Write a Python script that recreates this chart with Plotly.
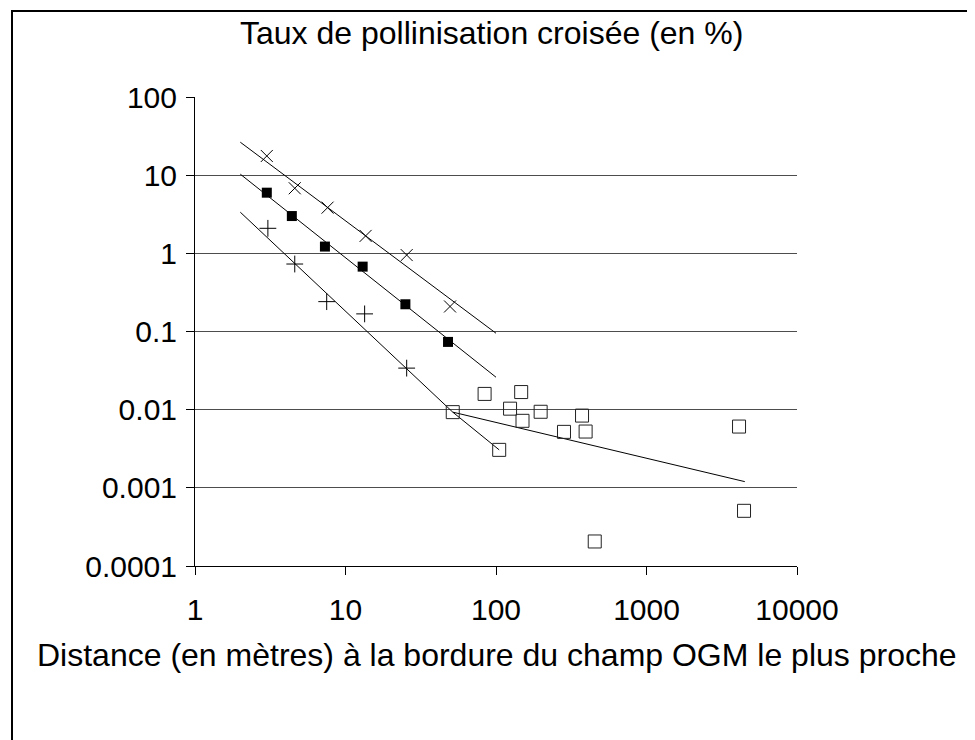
import plotly.graph_objects as go

# ---- data ----
dist_cross = [3.0, 4.6, 7.6, 13.6, 25.5, 49.5]
rate_cross = [17.6, 6.8, 3.84, 1.67, 0.95, 0.209]

dist_square_filled = [3.0, 4.4, 7.3, 13.0, 25.0, 48.0]
rate_square_filled = [5.97, 3.0, 1.22, 0.676, 0.223, 0.0736]

dist_plus = [3.05, 4.6, 7.5, 13.4, 25.5]
rate_plus = [2.09, 0.73, 0.241, 0.168, 0.034]

dist_open = [51.6, 105, 84, 147, 124, 150, 198, 283, 373, 394, 453, 4120, 4446]
rate_open = [0.0093, 0.00306, 0.0159, 0.0168, 0.0103, 0.0072, 0.0094, 0.0052, 0.0084, 0.00525,
             0.000206, 0.00608, 0.000508]

# trend lines
fit_cross_x = [2, 100]
fit_cross_y = [26.4, 0.095]
fit_filled_x = [2, 100]
fit_filled_y = [10.3, 0.026]
fit_plus_x = [2, 51.6, 105]
fit_plus_y = [3.36, 0.0093, 0.00306]
fit_open_x = [51.6, 4500]
fit_open_y = [0.0093, 0.0012]

x_tickvals = [1, 10, 100, 1000, 10000]
x_ticktext = ["1", "10", "100", "1000", "10000"]
y_tickvals = [0.0001, 0.001, 0.01, 0.1, 1, 10, 100]
y_ticktext = ["0.0001", "0.001", "0.01", "0.1", "1", "10", "100"]

title_text = "Taux de pollinisation croisée (en %)"
xtitle_text = "Distance (en mètres) à la bordure du champ OGM le plus proche"

FONT = "Liberation Sans, Arial, sans-serif"

fig = go.Figure()
line_style = dict(color="black", width=1)
for fx, fy in [(fit_cross_x, fit_cross_y), (fit_filled_x, fit_filled_y),
               (fit_plus_x, fit_plus_y), (fit_open_x, fit_open_y)]:
    fig.add_trace(go.Scatter(x=fx, y=fy, mode="lines", line=line_style,
                             hoverinfo="skip", showlegend=False))

fig.add_trace(go.Scatter(x=dist_cross, y=rate_cross, mode="markers",
                         marker=dict(symbol="x-thin", size=12,
                                     line=dict(color="black", width=1)),
                         showlegend=False))
fig.add_trace(go.Scatter(x=dist_square_filled, y=rate_square_filled, mode="markers",
                         marker=dict(symbol="square", size=10, color="black",
                                     line=dict(width=0)),
                         showlegend=False))
fig.add_trace(go.Scatter(x=dist_plus, y=rate_plus, mode="markers",
                         marker=dict(symbol="cross-thin", size=12,
                                     line=dict(color="black", width=1)),
                         showlegend=False))
fig.add_trace(go.Scatter(x=dist_open, y=rate_open, mode="markers",
                         marker=dict(symbol="square-open", size=13, color="#222",
                                     line=dict(color="#222", width=1)),
                         showlegend=False))

# the page body has an 8px margin; screen coordinates below are compensated
OFF = 8
W, H = 975, 740
L, T = 195 - OFF, 97 - OFF
R = W - (797 - OFF)
B = H - (566 - OFF)
pw, ph = W - L - R, H - T - B

def px_x(p):
    return (p - OFF - L) / pw

def px_y(p):
    return (H - B - (p - OFF)) / ph

fig.update_layout(
    width=W, height=H,
    margin=dict(l=L, r=R, t=T, b=B, pad=0),
    paper_bgcolor="white", plot_bgcolor="white",
    font=dict(family=FONT, size=30, color="black"),
    xaxis=dict(type="log", range=[0, 4], tickvals=x_tickvals, ticktext=x_ticktext,
               showgrid=False, zeroline=False, showline=True, linecolor="black",
               linewidth=1, ticks="outside", ticklen=8, tickcolor="black",
               tickfont=dict(size=30), ticklabelstandoff=9),
    yaxis=dict(type="log", range=[-4, 2], tickvals=y_tickvals, ticktext=y_ticktext,
               showgrid=True, gridcolor="#4d4d4d", gridwidth=1, zeroline=False,
               showline=True, linecolor="black", linewidth=1, ticks="outside",
               ticklen=8, tickcolor="black", tickfont=dict(size=30),
               ticklabelstandoff=3),
    shapes=[dict(type="rect", xref="paper", yref="paper",
                 x0=px_x(12), x1=px_x(1000), y0=px_y(770), y1=px_y(11),
                 line=dict(color="black", width=2), fillcolor="rgba(0,0,0,0)",
                 layer="below")],
    annotations=[
        dict(text=title_text, xref="paper", yref="paper", x=px_x(491), y=px_y(33),
             xanchor="center", yanchor="middle", showarrow=False,
             font=dict(size=32)),
        dict(text=xtitle_text, xref="paper", yref="paper", x=px_x(497), y=px_y(655),
             xanchor="center", yanchor="middle", showarrow=False,
             font=dict(size=32)),
    ],
)

fig.write_html("out.html")
